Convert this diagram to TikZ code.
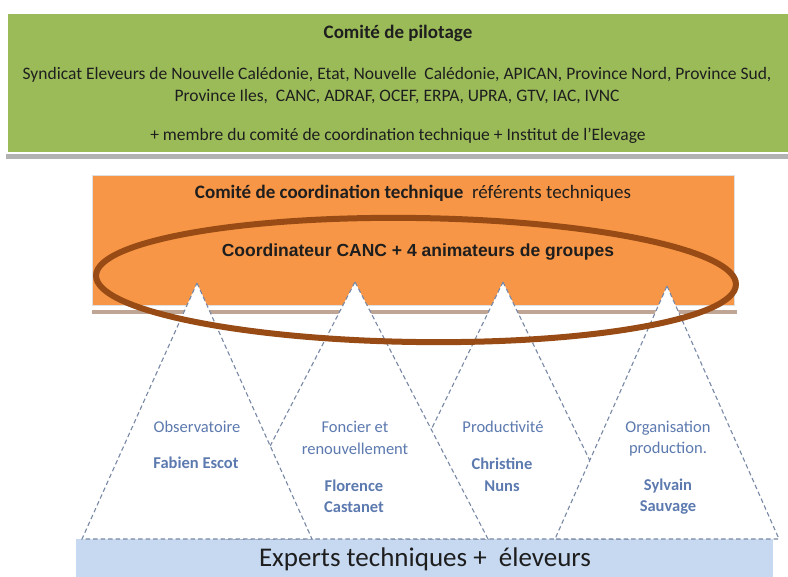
\documentclass[tikz,border=0pt]{standalone}
\usepackage{fontspec}
\setmainfont{Carlito}
\newfontfamily\arialfont{Liberation Sans}
\usetikzlibrary{positioning}
\definecolor{pilotgreen}{RGB}{155, 187, 89}
\definecolor{coordorange}{RGB}{247, 150, 70}
\definecolor{ringbrown}{RGB}{152, 75, 20}
\definecolor{expertblue}{RGB}{198, 217, 241}
\definecolor{dashgray}{RGB}{120, 136, 165}
\definecolor{grouptext}{RGB}{92, 122, 175}
\definecolor{textdark}{RGB}{30, 30, 30}
\definecolor{shadowbrown}{RGB}{190, 165, 148}

\begin{document}
\begin{tikzpicture}[
  x=1pt, y=-1pt,
  panel/.style={anchor=north west, inner sep=0pt, draw=none},
  title/.style={font=\fontsize{19}{22}\selectfont\bfseries, text=textdark},
  body/.style={font=\fontsize{17.5}{22}\selectfont, text=textdark, align=center},
  group/.style={draw=dashgray, dash pattern=on 4.5pt off 3pt, fill=white, line width=1.1pt},
  grouplabel/.style={font=\fontsize{16.5}{21.5}\selectfont, text=grouptext, align=center},
  groupname/.style={grouplabel, font=\fontsize{16.5}{21.5}\selectfont\bfseries},
  ring/.style={draw=ringbrown, line width=6pt}
]
\useasboundingbox (0,0) rectangle (788,577);

%% ── COMITE DE PILOTAGE ──
\fill[black!30] (6,154) rectangle (788,159);
\node[panel, fill=pilotgreen, minimum width=780pt, minimum height=138pt]
  (pilot) at (8,14) {};
\node[title] (pilotT) at (398,33) {Comité de pilotage};
\node[body] (pilotM) at (397,86) {Syndicat Eleveurs de Nouvelle Calédonie, Etat, Nouvelle\ \ Calédonie, APICAN, Province Nord, Province Sud,\\
  Province Iles,\ \ CANC, ADRAF, OCEF, ERPA, UPRA,\ GTV, IAC, IVNC};
\node[body] (pilotB) at (398,136) {+ membre du comité de coordination\ technique + Institut de l’Elevage};

%% ── COMITE DE COORDINATION ──
\fill[shadowbrown] (92,310) rectangle (737,314);
\node[panel, fill=coordorange, draw=black!12, line width=1.2pt,
  minimum width=642pt, minimum height=130pt] (coord) at (92,175) {};
\node[font=\fontsize{19}{22}\selectfont, text=textdark] (coordT) at (413,193)
  {\textbf{Comité de coordination technique}\ \ référents techniques};
\node[font=\arialfont\fontsize{17.5}{20}\selectfont\bfseries, text=textdark]
  (coordM) at (418,252) {Coordinateur CANC + 4 animateurs de groupes};

%% ── EXPERTS ──
\node[panel, fill=expertblue, minimum width=697pt, minimum height=38pt]
  (experts) at (76,539) {};

%% ── GROUPES ──
\foreach \px/\py/\hw in {503/282/125, 355/282/133, 197/283/115, 667/286/112}
  \filldraw[group] (\px,\py) -- (\px+\hw,539) -- (\px-\hw,539) -- cycle;

\node[grouplabel] (obs) at (197,427) {Observatoire};
\node[groupname] (obsN) at (196,463) {Fabien Escot};
\node[grouplabel] (fon) at (355,438) {Foncier et\\renouvellement};
\node[groupname] (fonN) at (354,496.5) {Florence\\Castanet};
\node[grouplabel] (prod) at (503,427) {Productivité};
\node[groupname] (prodN) at (502,475) {Christine\\Nuns};
\node[grouplabel] (org) at (668,438.5) {Organisation\\production.};
\node[groupname] (orgN) at (668,496.5) {Sylvain\\Sauvage};

\node[font=\fontsize{27}{30}\selectfont, text=textdark] (expT) at (425,559)
  {Experts techniques\ +\ \ éleveurs};

%% ── ANIMATEURS ──
\draw[ring, rotate around={-0.8:(416,280)}] (416,280) ellipse [x radius=320, y radius=62];

\end{tikzpicture}
\end{document}
